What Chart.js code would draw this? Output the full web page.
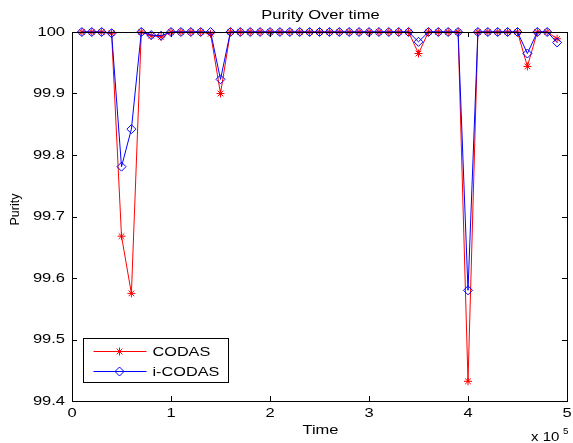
<!DOCTYPE html>
<html>
<head>
<meta charset="utf-8">
<title>Purity Over time</title>
<script src="https://cdn.jsdelivr.net/npm/chart.js@4/dist/chart.umd.min.js"></script>
<style>
  html, body { margin: 0; padding: 0; background: #fff; }
  #chart { display: block; }
</style>
</head>
<body>
<canvas id="chart" width="573" height="443"></canvas>
<script>
// Sample times (x) and purity values
const times = [
  10000, 20000, 30000, 40000, 50000, 60000, 70000, 80000, 90000, 100000,
  110000, 120000, 130000, 140000, 150000, 160000, 170000, 180000, 190000, 200000,
  210000, 220000, 230000, 240000, 250000, 260000, 270000, 280000, 290000, 300000,
  310000, 320000, 330000, 340000, 350000, 360000, 370000, 380000, 390000, 400000,
  410000, 420000, 430000, 440000, 450000, 460000, 470000, 480000, 490000
];

const codas = [
  100, 100, 100, 99.998, 99.668, 99.575, 100, 99.994, 99.992, 100,
  100, 100, 100, 99.997, 99.900, 100, 100, 100, 100, 100,
  100, 100, 100, 100, 100, 100, 100, 100, 100, 100,
  100, 100, 100, 100, 99.965, 100, 100, 100, 100, 99.432,
  100, 100, 100, 100, 100, 99.944, 100, 100, 99.989
];

const iCodas = [
  100, 100, 100, 99.998, 99.781, 99.842, 100, 99.995, 99.994, 100,
  100, 100, 100, 100, 99.923, 100, 100, 100, 100, 100,
  100, 100, 100, 100, 100, 100, 100, 100, 100, 100,
  100, 100, 100, 100, 99.984, 100, 100, 100, 100, 99.580,
  100, 100, 100, 100, 100, 99.965, 100, 100, 99.983
];

const xTicks = [0, 100000, 200000, 300000, 400000, 500000];
const xTickLabels = ['0', '1', '2', '3', '4', '5'];
const yTicks = [99.4, 99.5, 99.6, 99.7, 99.8, 99.9, 100];
const yTickLabels = ['99.4', '99.5', '99.6', '99.7', '99.8', '99.9', '100'];

const FONT = '"Liberation Sans", Arial, Helvetica, sans-serif';
const STRETCH = 1.32; // the figure's text is drawn wide

// draw horizontally stretched text
function wideText(ctx, s, x, y, align, size, sx) {
  ctx.save();
  ctx.font = size + 'px ' + FONT;
  ctx.textBaseline = 'middle';
  ctx.textAlign = 'left';
  const w = ctx.measureText(s).width * sx;
  let x0 = x;
  if (align === 'center') x0 = x - w / 2;
  else if (align === 'right') x0 = x - w;
  ctx.translate(x0, y);
  ctx.scale(sx, 1);
  ctx.fillStyle = '#000';
  ctx.fillText(s, 0, 0);
  ctx.restore();
}

function drawStar(ctx, x, y, r) {
  ctx.beginPath();
  ctx.moveTo(x - r, y); ctx.lineTo(x + r, y);
  ctx.moveTo(x, y - r); ctx.lineTo(x, y + r);
  const d = r * Math.SQRT1_2;
  ctx.moveTo(x - d, y - d); ctx.lineTo(x + d, y + d);
  ctx.moveTo(x - d, y + d); ctx.lineTo(x + d, y - d);
  ctx.stroke();
}

function drawDiamond(ctx, x, y, r) {
  ctx.beginPath();
  ctx.moveTo(x, y - r); ctx.lineTo(x + r, y);
  ctx.lineTo(x, y + r); ctx.lineTo(x - r, y);
  ctx.closePath();
  ctx.stroke();
}

// axes box, inward ticks, labels and legend in the old matlab style
const matlabFrame = {
  id: 'matlabFrame',
  afterDatasetsDraw(chart) {
    const ctx = chart.ctx;
    const a = chart.chartArea;
    const xs = chart.scales.x;
    const ys = chart.scales.y;
    const tl = 5;

    ctx.save();
    ctx.strokeStyle = '#000';
    ctx.lineWidth = 1;
    ctx.strokeRect(Math.round(a.left) + 0.5, Math.round(a.top) + 0.5,
      Math.round(a.right - a.left), Math.round(a.bottom - a.top));

    ctx.beginPath();
    xTicks.forEach((v) => {
      const px = Math.round(xs.getPixelForValue(v)) + 0.5;
      ctx.moveTo(px, a.bottom); ctx.lineTo(px, a.bottom - tl);
      ctx.moveTo(px, a.top); ctx.lineTo(px, a.top + tl);
    });
    yTicks.forEach((v) => {
      const py = Math.round(ys.getPixelForValue(v)) + 0.5;
      ctx.moveTo(a.left, py); ctx.lineTo(a.left + tl, py);
      ctx.moveTo(a.right, py); ctx.lineTo(a.right - tl, py);
    });
    ctx.stroke();

    xTicks.forEach((v, i) => {
      wideText(ctx, xTickLabels[i], xs.getPixelForValue(v), a.bottom + 12.5, 'center', 12.5, STRETCH);
    });
    yTicks.forEach((v, i) => {
      wideText(ctx, yTickLabels[i], a.left - 7, ys.getPixelForValue(v) + 0.5, 'right', 12.5, STRETCH);
    });

    // titles
    const cx = (a.left + a.right) / 2 + 1;
    wideText(ctx, 'Purity Over time', cx, 16, 'center', 12.5, STRETCH);
    wideText(ctx, 'Time', cx, a.bottom + 30, 'center', 12.5, STRETCH);
    wideText(ctx, 'x 10', a.right - 36, a.bottom + 37, 'left', 12.5, 1.2);
    wideText(ctx, '5', a.right - 4, a.bottom + 31, 'left', 9, 1.1);

    ctx.save();
    ctx.translate(16, (a.top + a.bottom) / 2 - 7);
    ctx.rotate(-Math.PI / 2);
    ctx.font = '12.5px ' + FONT;
    ctx.fillStyle = '#000';
    ctx.textAlign = 'center';
    ctx.textBaseline = 'middle';
    ctx.fillText('Purity', 0, 0);
    ctx.restore();

    // legend box, bottom left
    const lx = Math.round(a.left + 11) + 0.5;
    const ly = Math.round(a.bottom - 63) + 0.5;
    ctx.fillStyle = '#fff';
    ctx.fillRect(lx, ly, 145, 44);
    ctx.strokeStyle = '#000';
    ctx.strokeRect(lx, ly, 145, 44);

    chart.data.datasets.forEach((ds, i) => {
      const ry = ly + 13 + i * 20;
      ctx.strokeStyle = ds.borderColor;
      ctx.lineWidth = 1;
      ctx.beginPath();
      ctx.moveTo(lx + 10, ry); ctx.lineTo(lx + 63, ry);
      ctx.stroke();
      if (ds.pointStyle === 'star') drawStar(ctx, lx + 36, ry, 4);
      else drawDiamond(ctx, lx + 36, ry, 4.5);
      wideText(ctx, ds.label, lx + 69, ry + 0.5, 'left', 13, 1.25);
    });
    ctx.restore();
  }
};

new Chart(document.getElementById('chart'), {
  type: 'line',
  data: {
    datasets: [
      {
        label: 'CODAS',
        data: times.map((t, i) => ({ x: t, y: codas[i] })),
        borderColor: '#ff0000',
        backgroundColor: 'rgba(0,0,0,0)',
        borderWidth: 1,
        pointStyle: 'star',
        pointRadius: 4,
        pointBorderWidth: 1,
        pointBorderColor: '#ff0000',
        tension: 0,
        clip: false,
        order: 2,
      },
      {
        label: 'i-CODAS',
        data: times.map((t, i) => ({ x: t, y: iCodas[i] })),
        borderColor: '#0000ff',
        backgroundColor: 'rgba(0,0,0,0)',
        borderWidth: 1,
        pointStyle: 'rectRot',
        pointRadius: 4.5,
        pointBorderWidth: 1,
        pointBorderColor: '#0000ff',
        pointBackgroundColor: 'rgba(0,0,0,0)',
        tension: 0,
        clip: false,
        order: 1,
      },
    ],
  },
  options: {
    responsive: false,
    animation: false,
    events: [],
    layout: { padding: { left: 72, right: 6, top: 32, bottom: 42 } },
    plugins: {
      legend: { display: false },
      title: { display: false },
      tooltip: { enabled: false },
    },
    scales: {
      x: { type: 'linear', display: false, min: 0, max: 500000 },
      y: { type: 'linear', display: false, min: 99.4, max: 100 },
    },
  },
  plugins: [matlabFrame],
});
</script>
</body>
</html>
